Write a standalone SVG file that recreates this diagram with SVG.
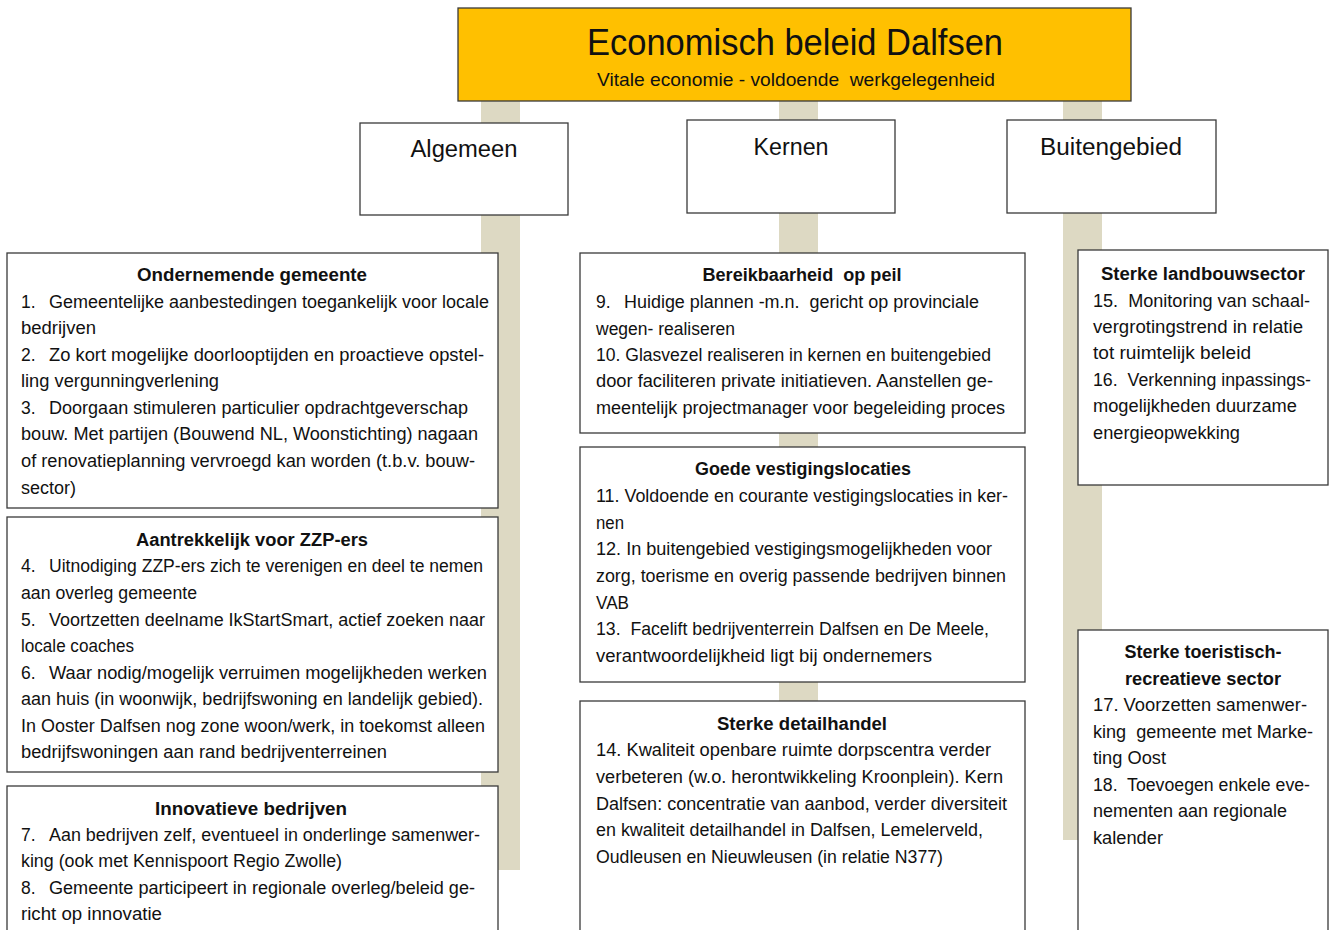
<svg xmlns="http://www.w3.org/2000/svg" width="1330" height="930" viewBox="0 0 1330 930">
<style>
.box{fill:#ffffff;stroke:#3a3a3a;stroke-width:1.3}
.title{fill:#FFC000;stroke:#3a3a3a;stroke-width:1.3}
.stem{fill:#DDD9C3}
text{font-family:"Liberation Sans",Arial,sans-serif;fill:#111;white-space:pre}
.t{font-size:17.5px}
.h{font-size:17.5px;font-weight:bold;text-anchor:middle}
.cat{font-size:23px;text-anchor:middle}
</style>
<rect width="1330" height="930" fill="#ffffff"/>
<g id="connectors">
<rect class="stem" x="481" y="101" width="39" height="769"/>
<rect class="stem" x="779" y="101" width="39" height="769"/>
<rect class="stem" x="1063" y="101" width="39" height="739"/>
</g>
<g id="title">
<rect class="title" x="458" y="8" width="673" height="93"/>
<text x="795" y="55" font-size="37" text-anchor="middle" textLength="416" lengthAdjust="spacingAndGlyphs">Economisch beleid Dalfsen</text>
<text x="796" y="86" font-size="18.5" text-anchor="middle" textLength="398" lengthAdjust="spacingAndGlyphs">Vitale economie - voldoende  werkgelegenheid</text>
</g>
<g id="algemeen">
<rect class="box" x="360" y="123" width="208" height="92"/>
<text class="cat" x="464" y="157" textLength="107" lengthAdjust="spacingAndGlyphs">Algemeen</text>
</g>
<g id="kernen">
<rect class="box" x="687" y="120" width="208" height="93"/>
<text class="cat" x="791" y="155" textLength="75" lengthAdjust="spacingAndGlyphs">Kernen</text>
</g>
<g id="buitengebied">
<rect class="box" x="1007" y="120" width="209" height="93"/>
<text class="cat" x="1111" y="155" textLength="142" lengthAdjust="spacingAndGlyphs">Buitengebied</text>
</g>
<g id="ondernemende-gemeente">
<rect class="box" x="7" y="253" width="491" height="255"/>
<text class="h" x="252" y="281" textLength="230" lengthAdjust="spacingAndGlyphs">Ondernemende gemeente</text>
<text class="t" x="21" y="308">1.</text>
<text class="t" x="49" y="308" textLength="440" lengthAdjust="spacingAndGlyphs">Gemeentelijke aanbestedingen toegankelijk voor locale</text>
<text class="t" x="21" y="334" textLength="75" lengthAdjust="spacingAndGlyphs">bedrijven</text>
<text class="t" x="21" y="361">2.</text>
<text class="t" x="49" y="361" textLength="435" lengthAdjust="spacingAndGlyphs">Zo kort mogelijke doorlooptijden en proactieve opstel-</text>
<text class="t" x="21" y="387" textLength="198" lengthAdjust="spacingAndGlyphs">ling vergunningverlening</text>
<text class="t" x="21" y="414">3.</text>
<text class="t" x="49" y="414" textLength="419" lengthAdjust="spacingAndGlyphs">Doorgaan stimuleren particulier opdrachtgeverschap</text>
<text class="t" x="21" y="440" textLength="457" lengthAdjust="spacingAndGlyphs">bouw. Met partijen (Bouwend NL, Woonstichting) nagaan</text>
<text class="t" x="21" y="467" textLength="454" lengthAdjust="spacingAndGlyphs">of renovatieplanning vervroegd kan worden (t.b.v. bouw-</text>
<text class="t" x="21" y="494" textLength="55" lengthAdjust="spacingAndGlyphs">sector)</text>
</g>
<g id="aantrekkelijk-zzp">
<rect class="box" x="7" y="517" width="491" height="255"/>
<text class="h" x="252" y="546" textLength="232" lengthAdjust="spacingAndGlyphs">Aantrekkelijk voor ZZP-ers</text>
<text class="t" x="21" y="572">4.</text>
<text class="t" x="49" y="572" textLength="434" lengthAdjust="spacingAndGlyphs">Uitnodiging ZZP-ers zich te verenigen en deel te nemen</text>
<text class="t" x="21" y="599" textLength="176" lengthAdjust="spacingAndGlyphs">aan overleg gemeente</text>
<text class="t" x="21" y="626">5.</text>
<text class="t" x="49" y="626" textLength="436" lengthAdjust="spacingAndGlyphs">Voortzetten deelname IkStartSmart, actief zoeken naar</text>
<text class="t" x="21" y="652" textLength="113" lengthAdjust="spacingAndGlyphs">locale coaches</text>
<text class="t" x="21" y="679">6.</text>
<text class="t" x="49" y="679" textLength="438" lengthAdjust="spacingAndGlyphs">Waar nodig/mogelijk verruimen mogelijkheden werken</text>
<text class="t" x="21" y="705" textLength="462" lengthAdjust="spacingAndGlyphs">aan huis (in woonwijk, bedrijfswoning en landelijk gebied).</text>
<text class="t" x="21" y="732" textLength="464" lengthAdjust="spacingAndGlyphs">In Ooster Dalfsen nog zone woon/werk, in toekomst alleen</text>
<text class="t" x="21" y="758" textLength="366" lengthAdjust="spacingAndGlyphs">bedrijfswoningen aan rand bedrijventerreinen</text>
</g>
<g id="innovatieve-bedrijven">
<rect class="box" x="7" y="786" width="491" height="150"/>
<text class="h" x="251" y="815" textLength="192" lengthAdjust="spacingAndGlyphs">Innovatieve bedrijven</text>
<text class="t" x="21" y="841">7.</text>
<text class="t" x="49" y="841" textLength="431" lengthAdjust="spacingAndGlyphs">Aan bedrijven zelf, eventueel in onderlinge samenwer-</text>
<text class="t" x="21" y="867" textLength="321" lengthAdjust="spacingAndGlyphs">king (ook met Kennispoort Regio Zwolle)</text>
<text class="t" x="21" y="894">8.</text>
<text class="t" x="49" y="894" textLength="426" lengthAdjust="spacingAndGlyphs">Gemeente participeert in regionale overleg/beleid ge-</text>
<text class="t" x="21" y="920" textLength="141" lengthAdjust="spacingAndGlyphs">richt op innovatie</text>
</g>
<g id="bereikbaarheid">
<rect class="box" x="580" y="253" width="445" height="180"/>
<text class="h" x="802" y="281" textLength="199" lengthAdjust="spacingAndGlyphs">Bereikbaarheid  op peil</text>
<text class="t" x="596" y="308">9.</text>
<text class="t" x="624" y="308" textLength="355" lengthAdjust="spacingAndGlyphs">Huidige plannen -m.n.  gericht op provinciale</text>
<text class="t" x="596" y="335" textLength="139" lengthAdjust="spacingAndGlyphs">wegen- realiseren</text>
<text class="t" x="596" y="361" textLength="395" lengthAdjust="spacingAndGlyphs">10. Glasvezel realiseren in kernen en buitengebied</text>
<text class="t" x="596" y="387" textLength="397" lengthAdjust="spacingAndGlyphs">door faciliteren private initiatieven. Aanstellen ge-</text>
<text class="t" x="596" y="414" textLength="409" lengthAdjust="spacingAndGlyphs">meentelijk projectmanager voor begeleiding proces</text>
</g>
<g id="goede-vestigingslocaties">
<rect class="box" x="580" y="447" width="445" height="235"/>
<text class="h" x="803" y="475" textLength="216" lengthAdjust="spacingAndGlyphs">Goede vestigingslocaties</text>
<text class="t" x="596" y="502" textLength="412" lengthAdjust="spacingAndGlyphs">11. Voldoende en courante vestigingslocaties in ker-</text>
<text class="t" x="596" y="529" textLength="28" lengthAdjust="spacingAndGlyphs">nen</text>
<text class="t" x="596" y="555" textLength="396" lengthAdjust="spacingAndGlyphs">12. In buitengebied vestigingsmogelijkheden voor</text>
<text class="t" x="596" y="582" textLength="410" lengthAdjust="spacingAndGlyphs">zorg, toerisme en overig passende bedrijven binnen</text>
<text class="t" x="596" y="609" textLength="33" lengthAdjust="spacingAndGlyphs">VAB</text>
<text class="t" x="596" y="635" textLength="393" lengthAdjust="spacingAndGlyphs">13.  Facelift bedrijventerrein Dalfsen en De Meele,</text>
<text class="t" x="596" y="662" textLength="336" lengthAdjust="spacingAndGlyphs">verantwoordelijkheid ligt bij ondernemers</text>
</g>
<g id="sterke-detailhandel">
<rect class="box" x="580" y="701" width="445" height="235"/>
<text class="h" x="802" y="730" textLength="170" lengthAdjust="spacingAndGlyphs">Sterke detailhandel</text>
<text class="t" x="596" y="756" textLength="395" lengthAdjust="spacingAndGlyphs">14. Kwaliteit openbare ruimte dorpscentra verder</text>
<text class="t" x="596" y="783" textLength="407" lengthAdjust="spacingAndGlyphs">verbeteren (w.o. herontwikkeling Kroonplein). Kern</text>
<text class="t" x="596" y="810" textLength="411" lengthAdjust="spacingAndGlyphs">Dalfsen: concentratie van aanbod, verder diversiteit</text>
<text class="t" x="596" y="836" textLength="387" lengthAdjust="spacingAndGlyphs">en kwaliteit detailhandel in Dalfsen, Lemelerveld,</text>
<text class="t" x="596" y="863" textLength="347" lengthAdjust="spacingAndGlyphs">Oudleusen en Nieuwleusen (in relatie N377)</text>
</g>
<g id="sterke-landbouwsector">
<rect class="box" x="1078" y="250" width="250" height="235"/>
<text class="h" x="1203" y="280" textLength="204" lengthAdjust="spacingAndGlyphs">Sterke landbouwsector</text>
<text class="t" x="1093" y="307" textLength="217" lengthAdjust="spacingAndGlyphs">15.  Monitoring van schaal-</text>
<text class="t" x="1093" y="333" textLength="210" lengthAdjust="spacingAndGlyphs">vergrotingstrend in relatie</text>
<text class="t" x="1093" y="359" textLength="158" lengthAdjust="spacingAndGlyphs">tot ruimtelijk beleid</text>
<text class="t" x="1093" y="386" textLength="218" lengthAdjust="spacingAndGlyphs">16.  Verkenning inpassings-</text>
<text class="t" x="1093" y="412" textLength="204" lengthAdjust="spacingAndGlyphs">mogelijkheden duurzame</text>
<text class="t" x="1093" y="439" textLength="147" lengthAdjust="spacingAndGlyphs">energieopwekking</text>
</g>
<g id="sterke-toeristisch-recreatieve-sector">
<rect class="box" x="1078" y="630" width="250" height="306"/>
<text class="h" x="1203" y="658" textLength="157" lengthAdjust="spacingAndGlyphs">Sterke toeristisch-</text>
<text class="h" x="1203" y="685" textLength="156" lengthAdjust="spacingAndGlyphs">recreatieve sector</text>
<text class="t" x="1093" y="711" textLength="214" lengthAdjust="spacingAndGlyphs">17. Voorzetten samenwer-</text>
<text class="t" x="1093" y="738" textLength="220" lengthAdjust="spacingAndGlyphs">king  gemeente met Marke-</text>
<text class="t" x="1093" y="764" textLength="73" lengthAdjust="spacingAndGlyphs">ting Oost</text>
<text class="t" x="1093" y="791" textLength="217" lengthAdjust="spacingAndGlyphs">18.  Toevoegen enkele eve-</text>
<text class="t" x="1093" y="817" textLength="194" lengthAdjust="spacingAndGlyphs">nementen aan regionale</text>
<text class="t" x="1093" y="844" textLength="70" lengthAdjust="spacingAndGlyphs">kalender</text>
</g>
</svg>
